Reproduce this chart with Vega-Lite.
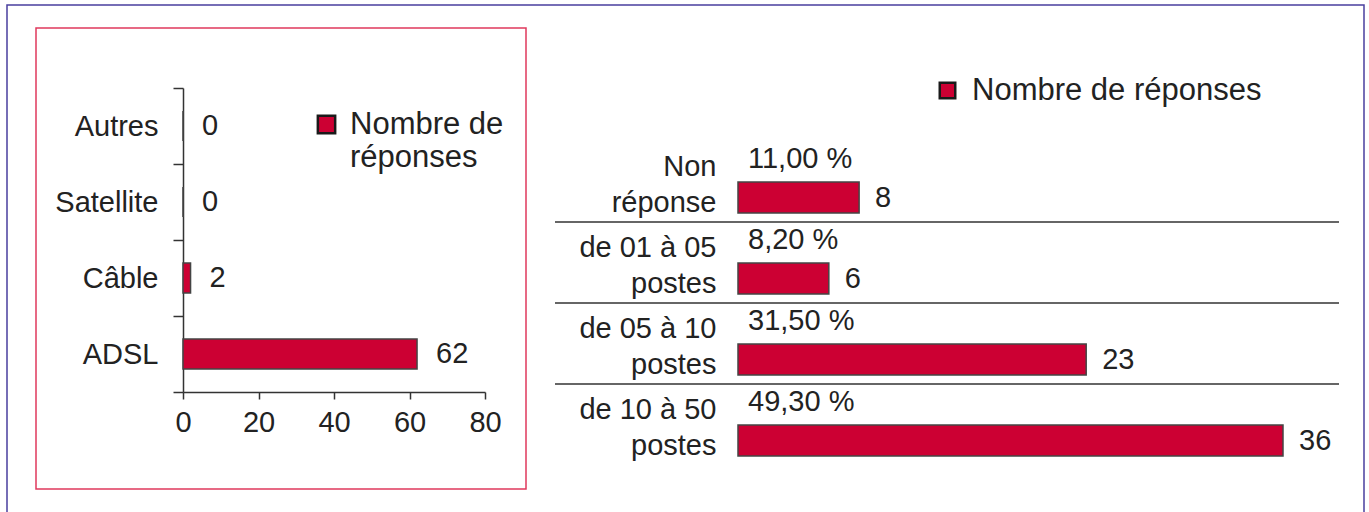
{
  "$schema": "https://vega.github.io/schema/vega-lite/v6.json",
  "width": 1357,
  "height": 510,
  "padding": {"left": 7, "top": 5, "right": 5, "bottom": 0},
  "autosize": {"type": "none"},
  "background": "white",
  "config": {
    "view": {"stroke": "#4a3f9f", "strokeWidth": 1.5},
    "font": "Liberation Sans",
    "text": {"font": "Liberation Sans", "color": "#222222"},
    "axis": {"labelFont": "Liberation Sans", "labelColor": "#222222", "domainColor": "#333333", "tickColor": "#333333", "domainWidth": 1.5, "tickWidth": 1.5, "grid": false, "title": null}
  },
  "datasets": {
    "frame": [{"panel": "Type de connexion"}],
    "left": [
      {"type": "Autres", "n": 0, "series": "Nombre de réponses"},
      {"type": "Satellite", "n": 0, "series": "Nombre de réponses"},
      {"type": "Câble", "n": 2, "series": "Nombre de réponses"},
      {"type": "ADSL", "n": 62, "series": "Nombre de réponses"}
    ],
    "right": [
      {"cat": "Non réponse", "n": 8, "pct": "11,00 %", "series": "Nombre de réponses"},
      {"cat": "de 01 à 05 postes", "n": 6, "pct": "8,20 %", "series": "Nombre de réponses"},
      {"cat": "de 05 à 10 postes", "n": 23, "pct": "31,50 %", "series": "Nombre de réponses"},
      {"cat": "de 10 à 50 postes", "n": 36, "pct": "49,30 %", "series": "Nombre de réponses"}
    ]
  },
  "layer": [
    {
      "data": {"name": "frame"},
      "mark": {"type": "rect", "fill": null, "stroke": "#e0395c", "strokeWidth": 1.5},
      "encoding": {
        "x": {"datum": 0, "type": "quantitative", "scale": {"domain": [0, 1], "range": [29, 519]}, "axis": null},
        "x2": {"datum": 1},
        "y": {"datum": 0, "type": "quantitative", "scale": {"domain": [0, 1], "range": [23, 484]}, "axis": null},
        "y2": {"datum": 1}
      }
    },
    {
      "data": {"name": "left"},
      "encoding": {
        "y": {
          "field": "type", "type": "nominal",
          "sort": ["Autres", "Satellite", "Câble", "ADSL"],
          "scale": {"range": [83, 387], "paddingInner": 0, "paddingOuter": 0},
          "axis": {"orient": "left", "offset": -176, "tickBand": "extent", "tickSize": 10, "labelPadding": 15, "labelFontSize": 29}
        },
        "x": {
          "field": "n", "type": "quantitative",
          "scale": {"domain": [0, 80], "range": [176, 478], "nice": false},
          "axis": {"orient": "bottom", "offset": -123, "values": [0, 20, 40, 60, 80], "tickSize": 7, "labelPadding": 9, "labelFontSize": 29, "labelFlush": false}
        }
      },
      "layer": [
        {
          "mark": {"type": "bar", "size": 30, "stroke": "#444444", "strokeWidth": 1.5},
          "encoding": {
            "color": {
              "field": "series", "type": "nominal",
              "scale": {"range": ["#cc0033"]},
              "legend": {
                "orient": "none", "legendX": 304, "legendY": 104, "title": null, "padding": 0,
                "symbolType": "square", "symbolSize": 300, "symbolStrokeColor": "#1a1a1a", "symbolStrokeWidth": 2.5,
                "labelFontSize": 31, "labelFont": "Liberation Sans", "labelColor": "#222222", "labelOffset": 8,
                "labelExpr": "['Nombre de', 'réponses']", "labelLineHeight": 38, "labelBaseline": "middle", "labelLimit": 400
              }
            }
          }
        },
        {
          "mark": {"type": "text", "align": "left", "baseline": "middle", "dx": 19, "fontSize": 29},
          "encoding": {"text": {"field": "n", "type": "quantitative"}}
        }
      ]
    },
    {
      "data": {"name": "right"},
      "encoding": {
        "y": {
          "field": "cat", "type": "nominal",
          "sort": ["Non réponse", "de 01 à 05 postes", "de 05 à 10 postes", "de 10 à 50 postes"],
          "scale": {"range": [136, 460], "paddingInner": 0, "paddingOuter": 0},
          "axis": {"orient": "left", "offset": -731, "domain": false, "ticks": false, "labelPadding": 22, "labelFontSize": 29, "labelLineHeight": 36, "labelOffset": -15,
                   "labelExpr": "datum.value == 'Non réponse' ? ['Non', 'réponse'] : [replace(datum.value, ' postes', ''), 'postes']"}
        }
      },
      "layer": [
        {
          "encoding": {
            "x": {"field": "n", "type": "quantitative", "scale": {"domain": [0, 36], "range": [731, 1276], "nice": false}, "axis": null}
          },
          "layer": [
            {
              "mark": {"type": "bar", "size": 31, "yOffset": 16, "stroke": "#444444", "strokeWidth": 1.5},
              "encoding": {
                "color": {
                  "field": "series", "type": "nominal",
                  "scale": {"range": ["#cc0033"]},
                  "legend": {
                    "orient": "none", "legendX": 925, "legendY": 70, "title": null, "padding": 0,
                    "symbolType": "square", "symbolSize": 240, "symbolStrokeColor": "#1a1a1a", "symbolStrokeWidth": 2.5,
                    "labelFontSize": 31, "labelFont": "Liberation Sans", "labelColor": "#222222", "labelOffset": 9, "labelLimit": 500
                  }
                }
              }
            },
            {
              "mark": {"type": "text", "align": "left", "baseline": "middle", "dx": 16, "dy": 16, "fontSize": 29},
              "encoding": {"text": {"field": "n", "type": "quantitative"}}
            },
            {
              "mark": {"type": "text", "align": "left", "baseline": "middle", "dx": 10, "dy": -23, "fontSize": 29},
              "encoding": {"x": {"datum": 0, "type": "quantitative"}, "text": {"field": "pct", "type": "nominal"}}
            }
          ]
        },
        {
          "transform": [{"filter": "datum.cat != 'de 10 à 50 postes'"}],
          "mark": {"type": "rule", "color": "#333333", "strokeWidth": 1.5},
          "encoding": {
            "y": {"field": "cat", "type": "nominal", "bandPosition": 1},
            "x": {"datum": 0, "type": "quantitative", "scale": {"domain": [0, 1], "range": [548, 1332]}, "axis": null},
            "x2": {"datum": 1}
          }
        }
      ],
      "resolve": {"scale": {"x": "independent"}, "axis": {"x": "independent"}}
    }
  ],
  "resolve": {
    "scale": {"x": "independent", "y": "independent", "color": "independent"},
    "axis": {"x": "independent", "y": "independent"},
    "legend": {"color": "independent"}
  }
}
